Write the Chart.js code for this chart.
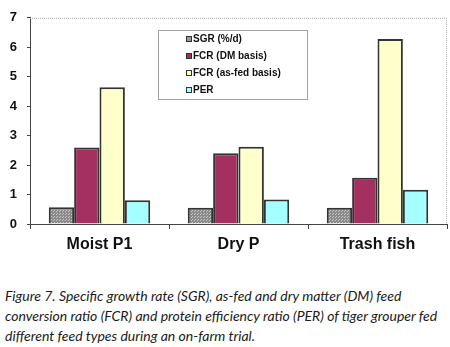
<!DOCTYPE html>
<html>
<head>
<meta charset="utf-8">
<script src="https://cdn.jsdelivr.net/npm/chart.js@4/dist/chart.umd.min.js"></script>
<style>
  html, body { margin: 0; padding: 0; background: #fff; }
  #wrap { position: relative; width: 450px; height: 347px; }
  #chartBox { position: absolute; left: 0; top: 0; width: 450px; height: 262px; }
  #caption {
    position: absolute; left: 5px; top: 286px; width: 445px; white-space: nowrap;
    font-family: Lato, "Open Sans", sans-serif; font-style: italic;
    font-size: 14px; line-height: 20px; color: #1a1a1a;
  }
</style>
</head>
<body>
<div id="wrap">
  <div id="chartBox"><canvas id="chart" width="450" height="262"></canvas></div>
  <div id="caption">Figure 7. Specific growth rate (SGR), as-fed and dry matter (DM) feed<br>conversion ratio (FCR) and protein efficiency ratio (PER) of tiger grouper fed<br>different feed types during an on-farm trial.</div>
</div>
<script>
const categories = ["Moist P1", "Dry P", "Trash fish"];
const seriesNames = ["SGR (%/d)", "FCR (DM basis)", "FCR (as-fed basis)", "PER"];
const sgr = [0.57, 0.55, 0.55];
const fcrDm = [2.6, 2.4, 1.57];
const fcrAsFed = [4.64, 2.62, 6.28];
const per = [0.81, 0.83, 1.16];
const yTicks = [0, 1, 2, 3, 4, 5, 6, 7];

// dotted grey fill for SGR bars
function makeDots() {
  const c = document.createElement("canvas");
  c.width = 3; c.height = 3;
  const g = c.getContext("2d");
  g.fillStyle = "#8a8a8a";
  g.fillRect(0, 0, 3, 3);
  g.fillStyle = "#c8c8c8";
  g.fillRect(0, 0, 1, 1);
  g.fillRect(2, 1, 1, 1);
  return g.createPattern(c, "repeat");
}

const colors = [makeDots(), "#a3305f", "#ffffcc", "#a6ffff"];
const legendColors = ["#999999", "#a3305f", "#ffffcc", "#a6ffff"];
const values = [sgr, fcrDm, fcrAsFed, per];

const frameAndLegend = {
  id: "frameAndLegend",
  afterDraw(chart) {
    const ctx = chart.ctx;
    const a = chart.chartArea;
    ctx.save();
    // dotted grey frame on top / right
    ctx.strokeStyle = "#aaaaaa";
    ctx.lineWidth = 1;
    ctx.setLineDash([1, 1]);
    ctx.beginPath();
    ctx.moveTo(a.left, a.top + 0.5);
    ctx.lineTo(a.right - 0.5, a.top + 0.5);
    ctx.lineTo(a.right - 0.5, a.bottom);
    ctx.stroke();

    // legend box
    ctx.strokeStyle = "#444";
    ctx.beginPath();
    ctx.rect(158.5, 30.5, 149, 69);
    ctx.stroke();
    ctx.setLineDash([]);
    ctx.font = "bold 10px 'Liberation Sans', Arial, sans-serif";
    ctx.textBaseline = "middle";
    chart.data.datasets.forEach((ds, i) => {
      const y = 39 + i * 17;
      ctx.fillStyle = legendColors[i];
      ctx.fillRect(186, y - 3, 6, 6);
      ctx.strokeStyle = "#333";
      ctx.lineWidth = 1;
      ctx.strokeRect(186.5, y - 2.5, 5, 5);
      ctx.fillStyle = "#111";
      ctx.fillText(ds.label, 193, y + 0.5);
    });
    ctx.restore();
  }
};

new Chart(document.getElementById("chart"), {
  type: "bar",
  data: {
    labels: categories,
    datasets: seriesNames.map((name, i) => ({
      label: name,
      data: values[i],
      backgroundColor: colors[i],
      borderColor: "#333333",
      borderWidth: 2,
      borderSkipped: "bottom"
    }))
  },
  options: {
    responsive: false,
    animation: false,
    layout: { padding: { top: 8, right: 3, left: 0, bottom: 0 } },
    datasets: { bar: { barPercentage: 1.0, categoryPercentage: 0.73 } },
    plugins: { legend: { display: false }, tooltip: { enabled: false } },
    scales: {
      x: {
        grid: { display: true, drawOnChartArea: false, drawTicks: true, tickLength: 5, color: "#444", offset: true },
        border: { display: true, color: "#444", width: 1 },
        ticks: {
          color: "#111", padding: 6,
          font: { family: "'Liberation Sans', Arial, sans-serif", size: 16, weight: "bold" }
        },
        afterFit(s) { s.height = 38; }
      },
      y: {
        min: 0, max: 7,
        afterBuildTicks(s) { s.ticks = yTicks.map(v => ({ value: v })); },
        grid: { display: true, drawOnChartArea: false, drawTicks: true, tickLength: 3, color: "#444" },
        border: { display: true, color: "#444", width: 1 },
        ticks: {
          color: "#111", padding: 10,
          font: { family: "'Liberation Sans', Arial, sans-serif", size: 13, weight: "bold" }
        },
        afterFit(s) { s.width = 30; }
      }
    }
  },
  plugins: [frameAndLegend]
});
</script>
</body>
</html>
